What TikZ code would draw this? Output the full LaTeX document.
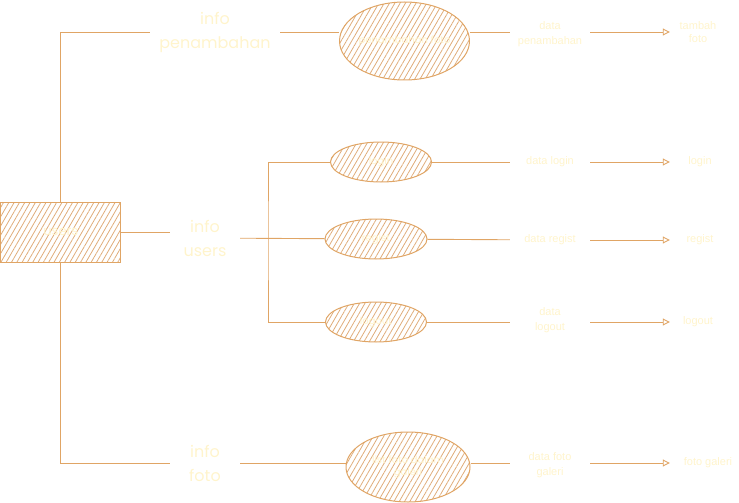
\documentclass[tikz,border=0pt]{standalone}
\usepackage{fontspec}
\setmainfont{Liberation Sans}
\newfontfamily\handfont{Poppins}
\usetikzlibrary{shapes.geometric,patterns.meta,arrows.meta}
\definecolor{stroke}{HTML}{E0A565}
\definecolor{hatch}{HTML}{DFAC7A}
\definecolor{label}{HTML}{FFF4CC}

\begin{document}
\begin{tikzpicture}[x=1pt,y=-1pt,
    every node/.style={text=label,align=center,inner sep=0pt},
    hatched/.style={draw=stroke,line width=1pt,pattern={Lines[angle=60,distance=4.6pt,line width=0.8pt]},pattern color=hatch},
    usecase/.style={ellipse,hatched,font=\handfont\fontsize{10}{12}\selectfont},
    info/.style={font=\handfont\fontsize{16}{24}\selectfont,minimum width=70pt},
    flow/.style={font=\fontsize{11}{15}\selectfont,minimum width=80pt},
    result/.style={font=\fontsize{11}{13}\selectfont,minimum width=60pt},
    link/.style={draw=stroke,line width=0.9pt}]
    \useasboundingbox (0,0) rectangle (739,503);

    \node[hatched,minimum width=120pt,minimum height=60pt,font=\handfont\fontsize{13}{14}\selectfont] (Users) at (60.8,232) {users};

    \node[info,minimum width=130pt] (InfoTambah) at (215,32) {info\\penambahan};
    \node[info] (InfoUsers) at (205,238) {info\\users};
    \node[info] (InfoFoto) at (205,463) {info\\foto};

    \node[usecase,minimum width=127pt,minimum height=78pt] (Tambah) at (404.5,41) {penambahan foto};
    \node[usecase,minimum width=101pt,minimum height=40pt] (Login) at (381,162) {login};
    \node[usecase,minimum width=102pt,minimum height=40pt] (Regist) at (376,239) {regist};
    \node[usecase,minimum width=101pt,minimum height=40pt] (Logout) at (376,322) {logout};
    \node[usecase,minimum width=124pt,minimum height=70pt] (Galeri) at (408,467) {list foto dalam\\galeri};

    \node[flow] (DataTambah) at (550,34) {data\\penambahan};
    \node[flow] (DataLogin) at (550,162) {data login};
    \node[flow] (DataRegist) at (550,240) {data regist};
    \node[flow] (DataLogout) at (550,320) {data\\logout};
    \node[flow] (DataGaleri) at (550,465) {data foto\\galeri};

    \node[result,minimum width=56pt] (TambahFoto) at (698,32) {tambah\\foto};
    \node[result] (LoginOut) at (700,162) {login};
    \node[result] (RegistOut) at (700,240) {regist};
    \node[result,minimum width=56pt] (LogoutOut) at (698,322) {logout};
    \node[result,minimum width=76pt] (FotoGaleri) at (708,463) {foto galeri};

    \coordinate (Split) at (268,239);

    \draw[link] (Users.north) |- (InfoTambah);
    \draw[link] (Users) -- (Users -| InfoUsers.west);
    \draw[link] (Users.south) |- (InfoFoto);

    \draw[link] (InfoTambah) -- (InfoTambah -| Tambah.west);
    \draw[link] (InfoUsers) -- (Regist);
    \draw[link] (Login) -| (Split) |- (Logout);
    \draw[link] (InfoFoto) -- (InfoFoto -| Galeri.west);

    \draw[link] (Tambah.east |- InfoTambah) -- (InfoTambah -| DataTambah.west);
    \draw[link] (Login) -- (DataLogin);
    \draw[link] (Regist) -- (DataRegist);
    \draw[link] (Logout.east |- LogoutOut) -- (LogoutOut -| DataLogout.west);
    \draw[link] (Galeri.east |- FotoGaleri) -- (FotoGaleri -| DataGaleri.west);

    \begin{scope}[every path/.style={link,-{Triangle[open,length=7pt,width=7pt]}}]
       \draw (DataTambah.east |- TambahFoto) -- (TambahFoto);
       \draw (DataLogin) -- (LoginOut);
       \draw (DataRegist) -- (RegistOut);
       \draw (DataLogout.east |- LogoutOut) -- (LogoutOut);
       \draw (DataGaleri.east |- FotoGaleri) -- (FotoGaleri);
    \end{scope}
\end{tikzpicture}
\end{document}
